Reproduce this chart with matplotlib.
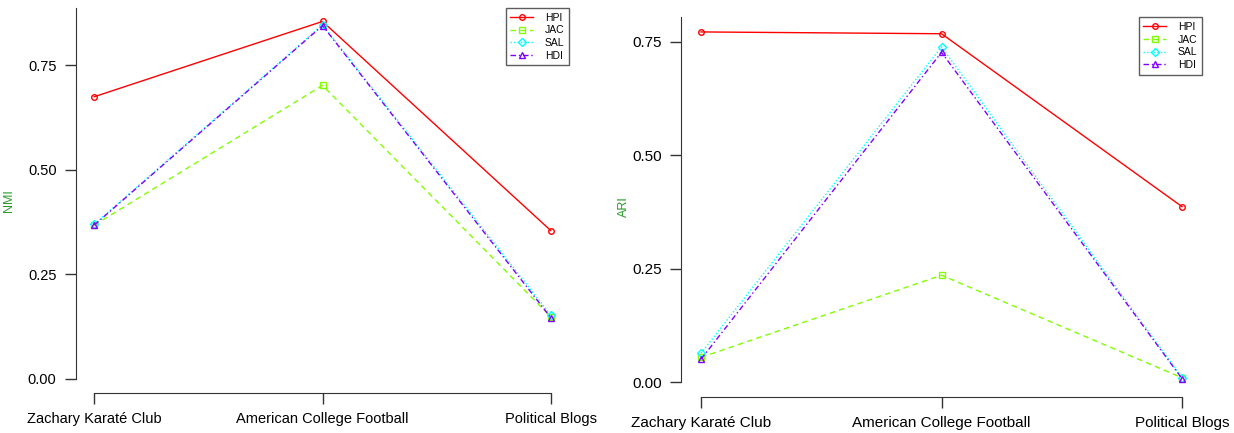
import matplotlib
matplotlib.use("Agg")
import matplotlib.pyplot as plt

plt.rcParams['font.family'] = ['Liberation Sans', 'DejaVu Sans']

categories = ["Zachary Karaté Club", "American College Football", "Political Blogs"]
methods = ["HPI", "JAC", "SAL", "HDI"]

nmi_hpi = [0.675, 0.855, 0.355]
nmi_jac = [0.368, 0.702, 0.149]
nmi_sal = [0.370, 0.847, 0.153]
nmi_hdi = [0.368, 0.845, 0.147]

ari_hpi = [0.772, 0.768, 0.387]
ari_jac = [0.055, 0.236, 0.010]
ari_sal = [0.064, 0.739, 0.010]
ari_hdi = [0.051, 0.727, 0.008]

yticks = [0.00, 0.25, 0.50, 0.75]
ytick_labels = ["0.00", "0.25", "0.50", "0.75"]

colors = ["#FF0000", "#80FF00", "#00FFFF", "#8000FF"]
styles = ["-", (0, (4, 3)), (0, (1, 1.5)), (0, (4, 2, 1, 2))]
markers = ["o", "s", "D", "^"]
msizes = [4, 4, 4, 5]

fig = plt.figure(figsize=(12.34, 4.33), dpi=100)

def draw(ax, series, ylabel, ylim, xlim, fs, top, label_x):
    x = list(range(len(categories)))
    for vals, c, ls, m, ms, lab in zip(series, colors, styles, markers, msizes, methods):
        ax.plot(x, vals, color=c, linestyle=ls, linewidth=1.0, marker=m,
                markersize=ms, markerfacecolor='none', markeredgecolor=c,
                markeredgewidth=1.0, label=lab)
    ax.set_xlim(*xlim)
    ax.set_ylim(*ylim)
    ax.set_xticks(x)
    ax.set_xticklabels(categories, fontsize=fs)
    ax.set_yticks(yticks)
    ax.set_yticklabels(ytick_labels, fontsize=fs)
    for s in ['top', 'right']:
        ax.spines[s].set_visible(False)
    ax.spines['left'].set_bounds(0, top)
    ax.spines['bottom'].set_bounds(0, 2)
    ax.spines['left'].set_color('#333333')
    ax.spines['bottom'].set_color('#333333')
    ax.tick_params(axis='y', length=8, width=1, pad=6, colors='#333333', labelcolor='black')
    ax.tick_params(axis='x', length=8, width=1, pad=6, colors='#333333', labelcolor='black')
    ax.set_ylabel(ylabel, color="#2a9a2a", fontsize=9)
    ax.yaxis.set_label_coords(label_x, 0.5)
    leg = ax.legend(loc='upper right', bbox_to_anchor=(1.0, 1.0), fontsize=7.5,
                    frameon=True, fancybox=False, borderaxespad=0,
                    handlelength=2.2, handletextpad=1.1, labelspacing=0.25,
                    borderpad=0.45)
    leg.get_frame().set_edgecolor('#333333')
    leg.get_frame().set_linewidth(1.0)

ax1 = fig.add_axes([0.0616, 0.0924, 0.3995, 0.889])
draw(ax1, [nmi_hpi, nmi_jac, nmi_sal, nmi_hdi], "NMI", (-0.0335, 0.887), (-0.08, 2.08), 10.5, 0.887, -0.124)

ax2 = fig.add_axes([0.5519, 0.0838, 0.4222, 0.876])
draw(ax2, [ari_hpi, ari_jac, ari_sal, ari_hdi], "ARI", (-0.0317, 0.804), (-0.083, 2.083), 11, 0.804, -0.098)

fig.savefig("out.png", dpi=100)
